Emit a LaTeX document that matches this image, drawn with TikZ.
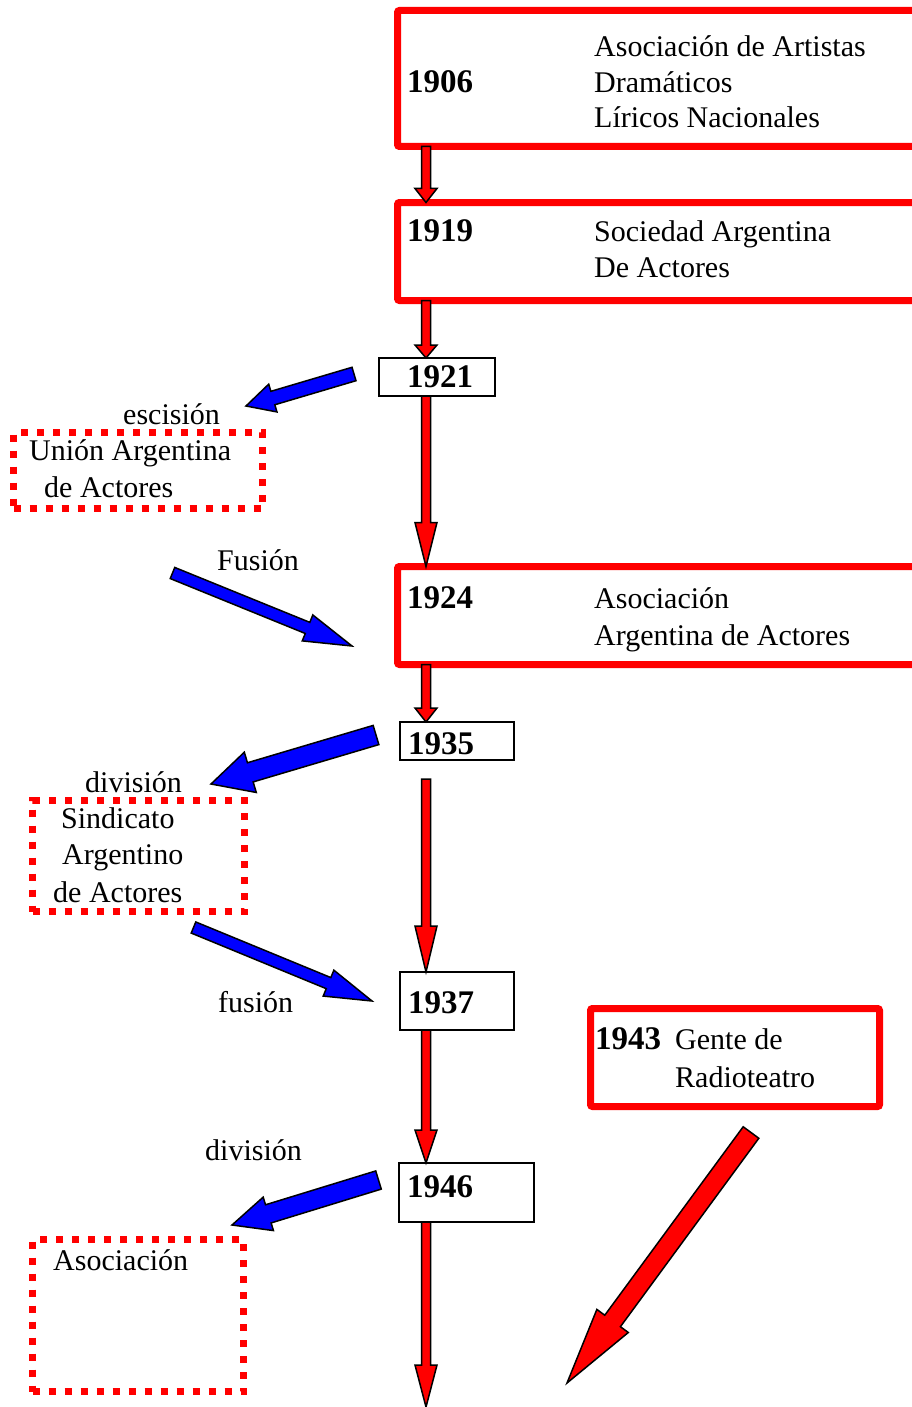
\documentclass[tikz,border=0pt]{standalone}
\usepackage{fontspec}
\setmainfont{Liberation Serif}
\usetikzlibrary{calc}
\definecolor{pptred}{RGB}{255,0,0}
\definecolor{pptblue}{RGB}{0,0,255}
\tikzset{
  redbox/.style={draw=pptred, line width=7pt, rounded corners=2pt, inner sep=0pt, outer sep=0pt, anchor=north west},
  yearbox/.style={draw=black, line width=2pt, inner sep=0pt, outer sep=0pt, anchor=north west},
  dotbox/.style={draw=pptred, line width=7pt, dash pattern=on 7pt off 9pt, inner sep=0pt, outer sep=0pt, anchor=north west},
  lbl/.style={inner sep=0pt, anchor=base west, font=\fontsize{30}{36}\selectfont},
  yr/.style={inner sep=0pt, anchor=base west, font=\fontsize{33}{36}\selectfont\bfseries},
  fatarrowstyle/.style={draw=black, line width=1.5pt, line join=miter}
}
% #1 fill, #2 tail, #3 tip, #4 shaft half width, #5 head half width, #6 head length
\newcommand\fatarrow[6]{%
  \coordinate (fab) at ($(#3)!#6!(#2)$);
  \draw[fatarrowstyle, fill=#1] ($(#2)!#4!90:(#3)$) -- ($(fab)!#4!-90:(#2)$) -- ($(fab)!#5!-90:(#2)$) -- (#3) -- ($(fab)!#5!90:(#2)$) -- ($(fab)!#4!90:(#2)$) -- ($(#2)!#4!-90:(#3)$) -- cycle;
}
\begin{document}
\begin{tikzpicture}[x=1pt,y=-1pt]
\useasboundingbox (0,0) rectangle (912,1407);
\clip (0,0) rectangle (912,1407);
\fill[white] (0,0) rectangle (912,1407);

% boxes
\node[redbox, minimum width=540pt, minimum height=136pt] (b1906) at (397.5,10.5) {};
\node[redbox, minimum width=540pt, minimum height=98pt] (b1919) at (397.5,202.5) {};
\node[yearbox, minimum width=116pt, minimum height=38pt] (b1921) at (379,358) {};
\node[redbox, minimum width=540pt, minimum height=98pt] (b1924) at (397.5,566.5) {};
\node[yearbox, minimum width=114pt, minimum height=38pt] (b1935) at (400,722) {};
\node[yearbox, minimum width=114pt, minimum height=58pt] (b1937) at (400,972) {};
\node[yearbox, minimum width=135pt, minimum height=59pt] (b1946) at (399,1163) {};
\node[redbox, minimum width=289pt, minimum height=98pt] (b1943) at (590.5,1008.5) {};
\node[dotbox, minimum width=249pt, minimum height=76pt] (bunion) at (13.5,432.5) {};
\node[dotbox, minimum width=212pt, minimum height=111pt] (bsind) at (32.5,800.5) {};
\node[dotbox, minimum width=211pt, minimum height=152pt] (basoc) at (32.5,1239.5) {};

% texts
\node[yr] (y1906) at (407,93) {1906};
\node[lbl] (t1906a) at (594,57) {Asociación de Artistas};
\node[lbl] (t1906b) at (594,93) {Dramáticos};
\node[lbl] (t1906c) at (594,128) {Líricos Nacionales};
\node[yr] (y1919) at (407,241) {1919};
\node[lbl] (t1919a) at (594,241) {Sociedad Argentina};
\node[lbl] (t1919b) at (594,277) {De Actores};
\node[yr] (y1921) at (407,387) {1921};
\node[lbl] (lesc) at (123,424) {escisión};
\node[lbl] (tunion1) at (29,460) {Unión Argentina};
\node[lbl] (tunion2) at (44,497) {de Actores};
\node[lbl] (lfus1) at (217,570) {Fusión};
\node[yr] (y1924) at (407,608) {1924};
\node[lbl] (t1924a) at (594,608) {Asociación};
\node[lbl] (t1924b) at (594,645) {Argentina de Actores};
\node[yr] (y1935) at (408,754) {1935};
\node[lbl] (ldiv1) at (85,792) {división};
\node[lbl] (tsind1) at (61,828) {Sindicato};
\node[lbl] (tsind2) at (62,864) {Argentino};
\node[lbl] (tsind3) at (53,902) {de Actores};
\node[lbl] (lfus2) at (218,1012) {fusión};
\node[yr] (y1937) at (408,1013) {1937};
\node[yr] (y1943) at (595,1049) {1943};
\node[lbl] (t1943a) at (675,1049) {Gente de};
\node[lbl] (t1943b) at (675,1087) {Radioteatro};
\node[lbl] (ldiv2) at (205,1160) {división};
\node[yr] (y1946) at (407,1197) {1946};
\node[lbl] (tasoc) at (53,1270) {Asociación};

% axis and free ends
\coordinate (axis) at (426,0);
\coordinate (t35) at ($(b1935.south -| axis)+(0,19)$);
\coordinate (endpt) at (426,1407);

% red vertical arrows
\fatarrow{pptred}{b1906.south west -| axis}{b1919.north west -| axis}{4.5pt}{11pt}{14pt}
\fatarrow{pptred}{b1919.south west -| axis}{b1921.north -| axis}{4.5pt}{11pt}{13pt}
\fatarrow{pptred}{b1921.south -| axis}{b1924.north west -| axis}{4.5pt}{11pt}{44pt}
\fatarrow{pptred}{b1924.south west -| axis}{b1935.north -| axis}{4.5pt}{11pt}{14pt}
\fatarrow{pptred}{t35}{b1937.north -| axis}{4.5pt}{11pt}{46pt}
\fatarrow{pptred}{b1937.south -| axis}{b1946.north -| axis}{4.5pt}{11pt}{33pt}
\fatarrow{pptred}{b1946.south -| axis}{endpt}{4.5pt}{11pt}{42pt}

% blue arrows
\coordinate (escT) at (354,374);  \coordinate (escP) at (246,406);
\coordinate (fusT) at (172.5,573); \coordinate (fusP) at (352,646);
\coordinate (divT) at (376,735);  \coordinate (divP) at (211,784);
\coordinate (fuzT) at (193.5,927.5); \coordinate (fuzP) at (372,1001);
\coordinate (dvzT) at (378.5,1180); \coordinate (dvzP) at (232,1225);
\coordinate (bigT) at (751,1132.5); \coordinate (bigP) at (567,1383);
\fatarrow{pptblue}{escT}{escP}{7pt}{14.5pt}{28pt}
\fatarrow{pptblue}{fusT}{fusP}{6pt}{14pt}{48pt}
\fatarrow{pptblue}{divT}{divP}{10pt}{21pt}{41pt}
\fatarrow{pptblue}{fuzT}{fuzP}{6pt}{14pt}{47pt}
\fatarrow{pptblue}{dvzT}{dvzP}{9.5pt}{17.5pt}{38pt}
\fatarrow{pptred}{bigT}{bigP}{9.7pt}{19.5pt}{77pt}
\end{tikzpicture}
\end{document}
